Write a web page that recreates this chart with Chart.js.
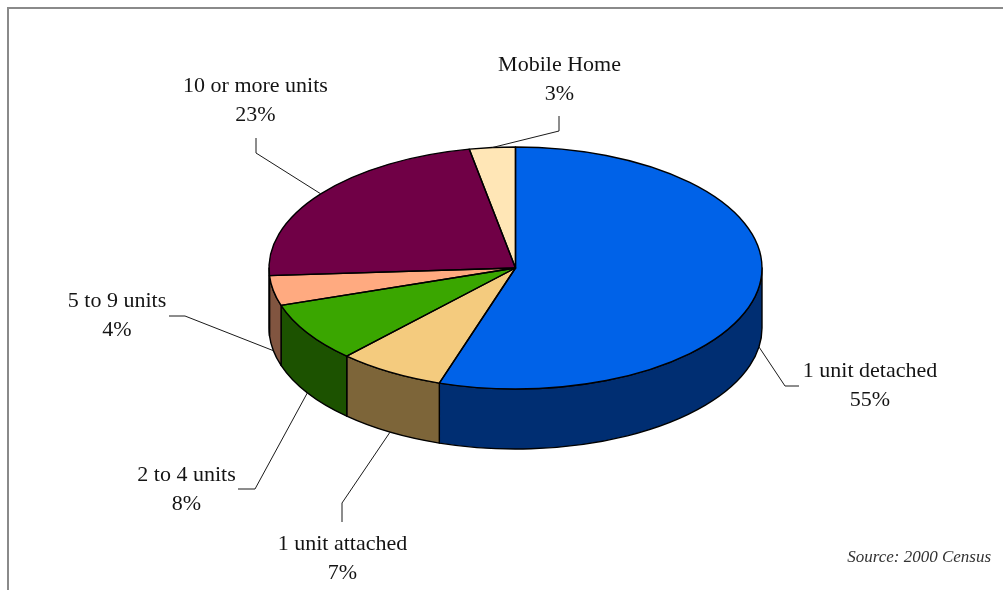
<!DOCTYPE html>
<html>
<head>
<meta charset="utf-8">
<title>Housing Units by Type</title>
<script src="https://cdn.jsdelivr.net/npm/chart.js@4.4.0/dist/chart.umd.min.js"></script>
<style>
  html, body { margin: 0; padding: 0; background: #ffffff; overflow: hidden; }
  #wrap { width: 1003px; height: 590px; position: relative; }
</style>
</head>
<body>
<div id="wrap"><canvas id="c" width="1003" height="590"></canvas></div>
<script>
// Housing units by type of structure
const categories = ['1 unit detached', '1 unit attached', '2 to 4 units', '5 to 9 units', '10 or more units', 'Mobile Home'];
const shares = [55, 7, 8, 4, 23, 3];
const percentLabels = ['55%', '7%', '8%', '4%', '23%', '3%'];

// slice colours: top face and darker side wall
const topColors  = ['#0062E8', '#F4CB7E', '#3AA600', '#FFAA80', '#700046', '#FFE6B6'];
const sideColors = ['#002E72', '#7D6539', '#1C5200', '#815540', '#3A0024', '#807359'];

// tilted-disc geometry on the page
const PIE = { cx: 515.5, cy: 268, rx: 246.5, ry: 121, depth: 60 };

// label placement: text centre, first baseline, leader elbow points
const LABEL_LAYOUT = [
  { x: 870,   y: 377, leader: [[799, 386], [785, 386]] },
  { x: 342.5, y: 550, leader: [[342, 522], [342, 503]] },
  { x: 186.5, y: 481, leader: [[238, 489], [255, 489]] },
  { x: 117,   y: 307, leader: [[169, 316], [185, 316]] },
  { x: 255.5, y: 92,  leader: [[256, 138], [256, 153]] },
  { x: 559.5, y: 71,  leader: [[559, 116], [559, 131]] }
];

const LABEL_FONT = '22px "Liberation Serif", "Times New Roman", serif';
const LINE_GAP = 29;

// map an arc element's own coordinates onto the flattened disc
function rimPoint(el, angle, drop) {
  return [PIE.cx + PIE.rx * Math.cos(angle), PIE.cy + PIE.ry * Math.sin(angle) + (drop || 0)];
}

const tiltedPie = {
  id: 'tiltedPie',
  beforeDraw(chart) {
    const ctx = chart.ctx;
    ctx.save();
    ctx.fillStyle = '#ffffff';
    ctx.fillRect(0, 0, chart.width, chart.height);
    // outer frame
    ctx.strokeStyle = '#8a8a8a';
    ctx.lineWidth = 2;
    ctx.strokeRect(8, 8, 1010, 620);
    ctx.restore();
  },
  beforeDatasetsDraw(chart) {
    const ctx = chart.ctx;
    const arcs = chart.getDatasetMeta(0).data;
    // side walls of the front half
    ctx.save();
    ctx.lineWidth = 1.4;
    ctx.strokeStyle = '#000000';
    ctx.lineJoin = 'round';
    arcs.forEach((el, i) => {
      const a0 = Math.max(el.startAngle, 0);
      const a1 = Math.min(el.endAngle, Math.PI);
      if (a1 <= a0) return;
      const D = PIE.depth;
      ctx.beginPath();
      const p0 = rimPoint(el, a0, 0);
      ctx.moveTo(p0[0], p0[1]);
      ctx.ellipse(PIE.cx, PIE.cy, PIE.rx, PIE.ry, 0, a0, a1, false);
      const p1 = rimPoint(el, a1, D);
      ctx.lineTo(p1[0], p1[1]);
      ctx.ellipse(PIE.cx, PIE.cy + D, PIE.rx, PIE.ry, 0, a1, a0, true);
      ctx.closePath();
      ctx.fillStyle = sideColors[i];
      ctx.fill();
      ctx.stroke();
    });
    ctx.restore();

    // flatten the library's own slice drawing onto the disc top
    const el = arcs[0];
    const R = el.outerRadius;
    ctx.save();
    ctx.translate(PIE.cx, PIE.cy);
    ctx.scale(PIE.rx / R, PIE.ry / R);
    ctx.translate(-el.x, -el.y);
  },
  afterDatasetsDraw(chart) {
    const ctx = chart.ctx;
    ctx.restore();
    const arcs = chart.getDatasetMeta(0).data;

    // slice outlines on the top face
    ctx.save();
    ctx.lineWidth = 1.4;
    ctx.strokeStyle = '#000000';
    ctx.lineJoin = 'round';
    arcs.forEach((el) => {
      ctx.beginPath();
      ctx.moveTo(PIE.cx, PIE.cy);
      const s = rimPoint(el, el.startAngle, 0);
      ctx.lineTo(s[0], s[1]);
      ctx.ellipse(PIE.cx, PIE.cy, PIE.rx, PIE.ry, 0, el.startAngle, el.endAngle, false);
      ctx.closePath();
      ctx.stroke();
    });
    ctx.restore();

    // category labels with leader lines
    ctx.save();
    ctx.font = LABEL_FONT;
    ctx.fillStyle = '#141414';
    ctx.textAlign = 'center';
    ctx.textBaseline = 'alphabetic';
    ctx.strokeStyle = '#1a1a1a';
    ctx.lineWidth = 1;
    arcs.forEach((el, i) => {
      const lay = LABEL_LAYOUT[i];
      const mid = (el.startAngle + el.endAngle) / 2;
      const front = Math.sin(mid) > 0;
      const anchor = rimPoint(el, mid, front ? PIE.depth : 0);
      ctx.beginPath();
      ctx.moveTo(lay.leader[0][0], lay.leader[0][1]);
      ctx.lineTo(lay.leader[1][0], lay.leader[1][1]);
      ctx.lineTo(anchor[0], anchor[1]);
      ctx.stroke();
      ctx.fillText(chart.data.labels[i], lay.x, lay.y);
      ctx.fillText(percentLabels[i], lay.x, lay.y + LINE_GAP);
    });
    ctx.restore();

    // source note
    ctx.save();
    ctx.font = 'italic 17px "Liberation Serif", "Times New Roman", serif';
    ctx.fillStyle = '#333333';
    ctx.textAlign = 'right';
    ctx.fillText('Source: 2000 Census', 991, 562);
    ctx.restore();
  }
};

new Chart(document.getElementById('c'), {
  type: 'pie',
  data: {
    labels: categories,
    datasets: [{
      data: shares,
      backgroundColor: topColors,
      borderWidth: 0,
      hoverOffset: 0,
      offset: 0
    }]
  },
  options: {
    responsive: false,
    animation: false,
    events: [],
    rotation: 0,
    circumference: 360,
    layout: { padding: 20 },
    plugins: {
      legend: { display: false },
      tooltip: { enabled: false },
      title: { display: false }
    }
  },
  plugins: [tiltedPie]
});
</script>
</body>
</html>
